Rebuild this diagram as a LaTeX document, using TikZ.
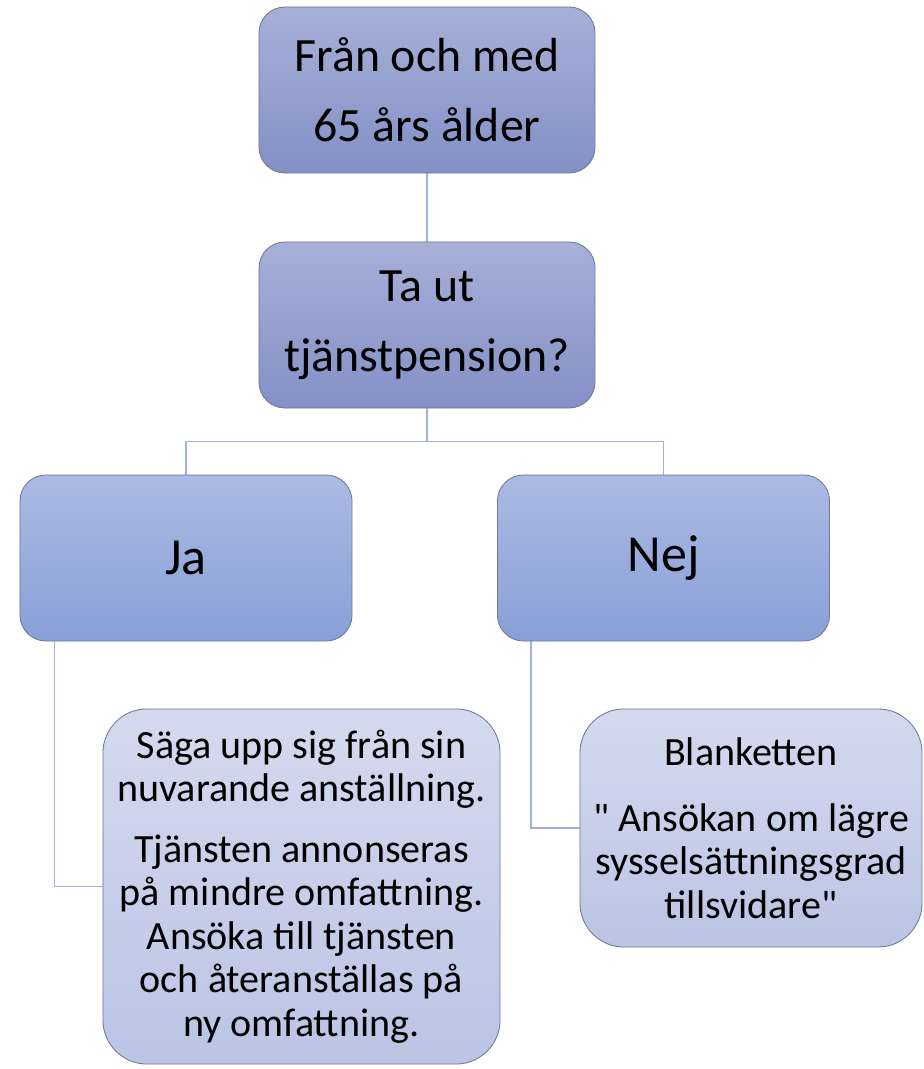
\documentclass[tikz,border=0pt]{standalone}
\usepackage{fontspec}
\setmainfont{Carlito}[Ligatures=TeXReset]
\usetikzlibrary{positioning, backgrounds}

\definecolor{stegtopp}{RGB}{166,176,216}
\definecolor{stegbotten}{RGB}{132,144,198}
\definecolor{valtopp}{RGB}{172,186,227}
\definecolor{valbotten}{RGB}{136,159,215}
\definecolor{infotopp}{RGB}{212,218,238}
\definecolor{infobotten}{RGB}{186,196,228}
\definecolor{kant}{RGB}{112,120,148}
\definecolor{linje}{RGB}{160,176,220}

\begin{document}
\begin{tikzpicture}[x=0.025cm, y=-0.025cm,
    ruta/.style={draw=kant, line width=0.6pt, rounded corners=0.65cm, align=center,
      inner sep=0pt},
    steg/.style={ruta, top color=stegtopp, bottom color=stegbotten,
      minimum width=8.4cm, minimum height=4.15cm, font=\fontsize{34}{50}\selectfont},
    val/.style={ruta, top color=valtopp, bottom color=valbotten,
      minimum width=8.3cm, minimum height=4.15cm, font=\fontsize{37}{42}\selectfont},
    info/.style={ruta, top color=infotopp, bottom color=infobotten, rounded corners=1.1cm,
      font=\fontsize{28.5}{31}\selectfont},
    linjen/.style={draw=linje, line width=1.1pt}]
    \useasboundingbox (0,0) rectangle (923,1069);
    \node[steg] (alder) at (427,90) {Från och med\\65 års ålder};
    \node[steg] (fraga) at (427,325) {Ta ut\\tjänstpension?};
    \node[val] (ja) at (186,558) {Ja};
    \node[val] (nej) at (663.5,558) {Nej};
    \node[info, minimum width=9.925cm, minimum height=8.875cm] (jatext) at (301.5,886.5)
      {Säga upp sig från sin\\nuvarande anställning.\\[12pt]
       Tjänsten annonseras\\på mindre omfattning.\\Ansöka till tjänsten\\
       och återanställas på\\ny omfattning.};
    \node[info, minimum width=8.55cm, minimum height=5.95cm] (nejtext) at (751,828)
      {Blanketten\\[16pt]" Ansökan om lägre\\sysselsättningsgrad\\tillsvidare"};
    \begin{scope}[on background layer]
      \draw[linjen] (alder.south) -- (fraga.north);
      \draw[linjen] (fraga.south) -- ++(0,33) -| (ja.north);
      \draw[linjen] (fraga.south) -- ++(0,33) -| (nej.north);
      \draw[linjen] (ja.south west) ++(35,0) |- (jatext.west);
      \draw[linjen] (nej.south west) ++(34,0) |- (nejtext.west);
    \end{scope}
  \end{tikzpicture}
\end{document}
